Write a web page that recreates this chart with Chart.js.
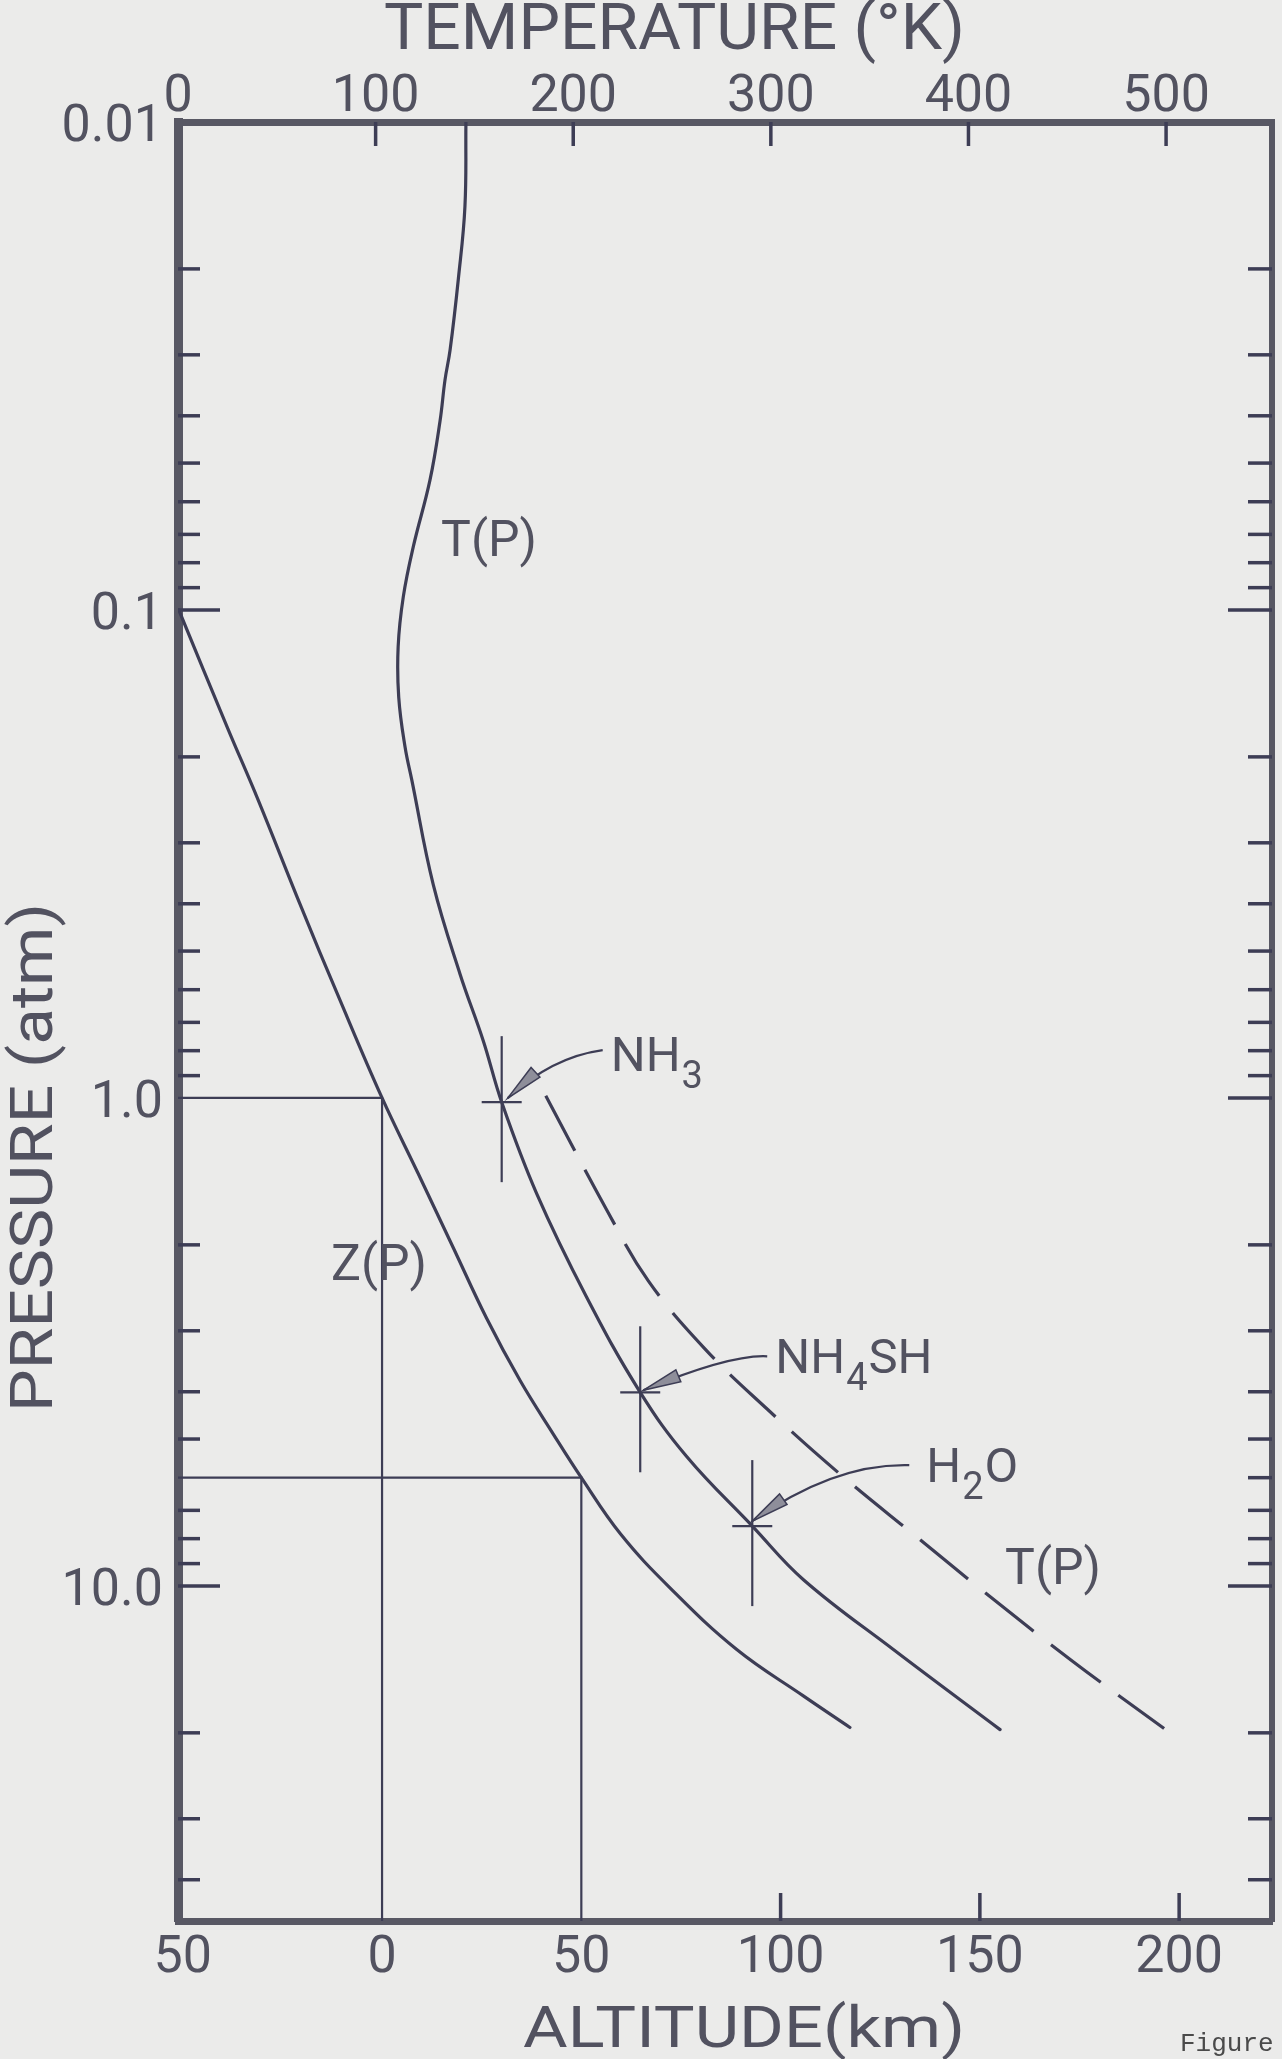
<!DOCTYPE html>
<html>
<head>
<meta charset="utf-8">
<title>Pressure, temperature and altitude</title>
<script src="https://cdn.jsdelivr.net/npm/chart.js@4.4.1/dist/chart.umd.min.js"></script>
<style>
  html, body { margin: 0; padding: 0; background: #ebebea; }
  canvas { display: block; }
</style>
</head>
<body>
<canvas id="chart" width="1282" height="2059"></canvas>
<script>
'use strict';

// solid T(P) profile
const solidP = [0.01, 0.0149, 0.0209, 0.0293, 0.0338, 0.041, 0.0542, 0.0741, 0.094, 0.119, 0.151, 0.191,
  0.223, 0.366, 0.557, 0.764, 1.02, 1.57, 2.56, 4.01, 5.43, 7.54, 9.71, 13.5, 19.7];
const solidT = [145.7, 145.2, 141.9, 137.7, 135.1, 132.6, 127.5, 119.1, 114.0, 111.4, 111.7, 114.9,
  118.3, 129.2, 142.7, 154.5, 163.8, 181.5, 206.8, 233.9, 257.4, 290.6, 316.5, 362, 416];

// dashed T(P) profile
const dashedP = [0.99, 1.70, 2.37, 3.26, 4.35, 5.91, 7.89, 10.35, 14.2, 19.6];
const dashedT = [186.1, 217.1, 238, 266.4, 298.4, 335.2, 373, 408.8, 452, 499];

// Z(P) altitude profile
const zP = [0.1, 0.175, 0.245, 0.406, 0.618, 1, 1.425, 2.03, 2.825, 3.79, 4.89, 6.0, 7.82, 10.1, 13.5, 16.8, 19.5];
const zAlt = [-51, -38.7, -31.1, -20.3, -11.0, 0, 9.0, 17.9, 26.2, 34.6, 43.0, 50, 59.8, 72.3, 89, 105.7, 117.4];

// cloud bases marked on the solid profile
const cloudNames = ['NH3', 'NH4SH', 'H2O'];
const cloudT = [163.8, 233.9, 290.6];
const cloudP = [1.02, 4.01, 7.54];

// reference lines
const refAlt = [0, 50];
const refP = [1.0, 6.0];

// curve labels
const curveLabels = ['T(P)', 'Z(P)', 'T(P)'];
const curveLabelT = [157.4, 101.7, 442.8];
const curveLabelP = [0.0775, 2.36, 9.9];

// axes
const tempTicks = [0, 100, 200, 300, 400, 500];
const altTicks = [-50, 0, 50, 100, 150, 200];
const altLabels = ['50', '0', '50', '100', '150', '200'];
const pressureMajor = [0.01, 0.1, 1, 10];
const pressureLabels = ['0.01', '0.1', '1.0', '10.0'];

const T_MIN = 0, T_MAX = 553.6;
const ALT_MIN = -51.2, ALT_MAX = 223.3;
const P_MIN = 0.01, P_MAX = 48.6;

(function () {
  const INK = '#3d3d55';
  const FRAME = '#585864';
  const TEXT = '#525260';
  const FONT = 'Roboto, "DejaVu Sans", sans-serif';

  // pixel offsets from each cross: label start, arrow start / control / end
  const cloudStyle = [
    { label: [109, -31], s: [101, -52], c: [50, -45], e: [6, -4] },
    { label: [135, -19], s: [127, -36], c: [90, -38], e: [3, -2] },
    { label: [174, -44], s: [157, -61], c: [82, -63], e: [0, -5] }
  ];
  const chemParts = {
    NH3: [['NH', 0], ['3', 1]],
    NH4SH: [['NH', 0], ['4', 1], ['SH', 0]],
    H2O: [['H', 0], ['2', 1], ['O', 0]]
  };

  function pressureTicks() {
    const list = [];
    pressureMajor.forEach(function (m) {
      for (let k = 1; k <= 9; k++) {
        const v = +(m * k).toPrecision(3);
        if (v <= P_MAX) list.push(v);
      }
    });
    return list;
  }
  const allPressureTicks = pressureTicks();

  function pts(xs, ys) {
    return xs.map(function (x, i) { return { x: x, y: ys[i] }; });
  }

  function line(ctx, x1, y1, x2, y2) {
    ctx.beginPath();
    ctx.moveTo(x1, y1);
    ctx.lineTo(x2, y2);
    ctx.stroke();
  }

  function fittedText(ctx, text, x, y, width, size, rotate) {
    ctx.save();
    ctx.font = size + 'px ' + FONT;
    const w = ctx.measureText(text).width;
    ctx.translate(x, y);
    if (rotate) ctx.rotate(-Math.PI / 2);
    ctx.scale(width / w, 1);
    ctx.textAlign = 'left';
    ctx.textBaseline = 'alphabetic';
    ctx.fillText(text, 0, 0);
    ctx.restore();
  }

  function drawChem(ctx, parts, x, y) {
    parts.forEach(function (p) {
      ctx.font = (p[1] ? 38 : 49) + 'px ' + FONT;
      ctx.fillText(p[0], x, y + (p[1] ? 17 : 0));
      x += ctx.measureText(p[0]).width + 1;
    });
  }

  const figurePlugin = {
    id: 'figure',
    afterDatasetsDraw(chart) {
      const ctx = chart.ctx;
      const s = chart.scales;
      const a = chart.chartArea;
      ctx.save();
      ctx.strokeStyle = INK;
      ctx.fillStyle = TEXT;

      // inward ticks
      ctx.lineWidth = 3.5;
      s.xT.ticks.forEach(function (t) {
        if (t.value === T_MIN) return;
        const px = s.xT.getPixelForValue(t.value);
        line(ctx, px, a.top, px, a.top + 24);
      });
      s.xA.ticks.forEach(function (t) {
        if (refAlt.indexOf(t.value) !== -1) return;
        const px = s.xA.getPixelForValue(t.value);
        if (px - a.left < 12) return;
        line(ctx, px, a.bottom, px, a.bottom - 28);
      });
      allPressureTicks.forEach(function (v) {
        if (v === P_MIN) return;
        const major = pressureMajor.indexOf(v) !== -1;
        const py = s.y.getPixelForValue(v);
        if (refP.indexOf(v) === -1) line(ctx, a.left, py, a.left + (major ? 42 : 22), py);
        const pr = s.yR.getPixelForValue(v);
        line(ctx, a.right, pr, a.right - (major ? 44 : 24), pr);
      });

      // cloud crosses, arrows and names
      cloudNames.forEach(function (name, i) {
        const cx = s.xT.getPixelForValue(cloudT[i]);
        const cy = s.y.getPixelForValue(cloudP[i]);
        const st = cloudStyle[i];
        ctx.lineWidth = 2.2;
        line(ctx, cx, cy - 66, cx, cy + 80);
        line(ctx, cx - 20, cy, cx + 20, cy);

        const sx = cx + st.s[0], sy = cy + st.s[1];
        const kx = cx + st.c[0], ky = cy + st.c[1];
        const ex = cx + st.e[0], ey = cy + st.e[1];
        ctx.beginPath();
        ctx.moveTo(sx, sy);
        ctx.quadraticCurveTo(kx, ky, ex, ey);
        ctx.stroke();
        const ang = Math.atan2(ey - ky, ex - kx);
        const L = 38, W = 6.5;
        const bx = ex - L * Math.cos(ang), by = ey - L * Math.sin(ang);
        ctx.beginPath();
        ctx.moveTo(ex, ey);
        ctx.lineTo(bx - W * Math.sin(ang), by + W * Math.cos(ang));
        ctx.lineTo(bx + W * Math.sin(ang), by - W * Math.cos(ang));
        ctx.closePath();
        ctx.fillStyle = '#8e8e9a';
        ctx.fill();
        ctx.lineWidth = 1.5;
        ctx.stroke();

        ctx.fillStyle = TEXT;
        ctx.textAlign = 'left';
        ctx.textBaseline = 'alphabetic';
        drawChem(ctx, chemParts[name], cx + st.label[0], cy + st.label[1]);
      });

      // curve labels
      ctx.font = '50px ' + FONT;
      ctx.textAlign = 'center';
      ctx.textBaseline = 'alphabetic';
      curveLabels.forEach(function (txt, i) {
        ctx.fillText(txt, s.xT.getPixelForValue(curveLabelT[i]), s.y.getPixelForValue(curveLabelP[i]));
      });
      ctx.restore();
    },
    afterDraw(chart) {
      const ctx = chart.ctx;
      ctx.save();
      ctx.fillStyle = TEXT;
      fittedText(ctx, 'TEMPERATURE (°K)', 384, 49, 581, 64, false);
      fittedText(ctx, 'ALTITUDE(km)', 523, 2047, 442, 57, false);
      fittedText(ctx, 'PRESSURE (atm)', 52, 1412, 509, 60, true);
      ctx.font = '26px "Liberation Mono", "Courier New", monospace';
      ctx.fillStyle = '#4a4a4a';
      ctx.textAlign = 'left';
      ctx.fillText('Figure', 1180, 2051);
      ctx.restore();
    }
  };

  // smooth profiles drawn as splines through the read points
  const curve = {
    pointRadius: 0, borderColor: INK, fill: false, borderCapStyle: 'round',
    indexAxis: 'y', tension: 0.4, borderWidth: 3.2, yAxisID: 'y'
  };
  const refLines = refAlt.map(function (alt, i) {
    return {
      data: [{ x: ALT_MIN, y: refP[i] }, { x: alt, y: refP[i] }, { x: alt, y: P_MAX }],
      xAxisID: 'xA', yAxisID: 'y', borderWidth: 2.2, tension: 0, pointRadius: 0,
      borderColor: INK, fill: false, borderCapStyle: 'butt'
    };
  });

  const tickFont = { family: FONT, size: 52, lineHeight: 1 };
  const border = { display: true, color: FRAME, width: 7 };

  new Chart(document.getElementById('chart'), {
    type: 'line',
    data: {
      datasets: [
        Object.assign({}, curve, { data: pts(zAlt, zP), xAxisID: 'xA' }),
        Object.assign({}, curve, { data: pts(solidT, solidP), xAxisID: 'xT' }),
        Object.assign({}, curve, { data: pts(dashedT, dashedP), xAxisID: 'xT',
          borderDash: [62, 22], borderCapStyle: 'butt' })
      ].concat(refLines)
    },
    options: {
      responsive: false,
      devicePixelRatio: 1,
      animation: false,
      events: [],
      layout: { padding: 0 },
      plugins: { legend: { display: false }, tooltip: { enabled: false } },
      scales: {
        xT: {
          type: 'linear', position: 'top', min: T_MIN, max: T_MAX,
          afterBuildTicks: function (sc) { sc.ticks = tempTicks.map(function (v) { return { value: v }; }); },
          afterFit: function (sc) { sc.height = 122; },
          grid: { display: false, drawTicks: false },
          border: border,
          ticks: { font: tickFont, color: TEXT, padding: -2, maxRotation: 0, autoSkip: false,
            callback: function (v) { return String(v); } }
        },
        xA: {
          type: 'linear', position: 'bottom', min: ALT_MIN, max: ALT_MAX,
          afterBuildTicks: function (sc) { sc.ticks = altTicks.map(function (v) { return { value: v }; }); },
          afterFit: function (sc) { sc.height = 138; },
          grid: { display: false, drawTicks: false },
          border: border,
          ticks: { font: tickFont, color: TEXT, padding: 12, maxRotation: 0, autoSkip: false,
            callback: function (v) { return altLabels[altTicks.indexOf(v)]; } }
        },
        y: {
          type: 'logarithmic', position: 'left', min: P_MIN, max: P_MAX, reverse: true,
          afterBuildTicks: function (sc) { sc.ticks = allPressureTicks.map(function (v) { return { value: v }; }); },
          afterFit: function (sc) { sc.width = 178; },
          grid: { display: false, drawTicks: false },
          border: { display: true, color: FRAME, width: 9 },
          ticks: { font: tickFont, color: TEXT, padding: 15, labelOffset: 6, autoSkip: false,
            callback: function (v) {
              const i = pressureMajor.indexOf(v);
              return i === -1 ? '' : pressureLabels[i];
            } }
        },
        yR: {
          type: 'logarithmic', position: 'right', min: P_MIN, max: P_MAX, reverse: true,
          afterFit: function (sc) { sc.width = 10; },
          grid: { display: false, drawTicks: false },
          border: { display: true, color: FRAME, width: 6 },
          ticks: { display: false }
        }
      }
    },
    plugins: [figurePlugin]
  });
})();
</script>
</body>
</html>
